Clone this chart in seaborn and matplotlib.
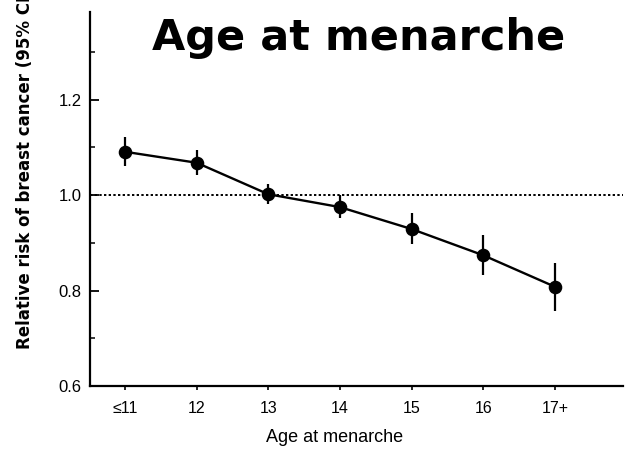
import numpy as np
import pandas as pd
import matplotlib
matplotlib.use("Agg")
import matplotlib.pyplot as plt
from matplotlib.ticker import MultipleLocator
import seaborn as sns

# ---- data ----
categories = ["≤11", "12", "13", "14", "15", "16", "17+"]
relative_risk = [1.091, 1.068, 1.002, 0.975, 0.929, 0.874, 0.808]
ci_low = [1.061, 1.042, 0.981, 0.952, 0.897, 0.832, 0.758]
ci_high = [1.121, 1.094, 1.024, 1.001, 0.963, 0.916, 0.857]
reference_value = 1.0

title_text = "Age at menarche"
x_label = "Age at menarche"
y_label = "Relative risk of breast cancer (95% CI)"

sns.set_theme(style="ticks")
plt.rcParams["font.family"] = ["Liberation Sans", "DejaVu Sans"]

df = pd.DataFrame({"age": categories, "rr": relative_risk})

fig = plt.figure(figsize=(6.35, 4.53), dpi=100)
ax = fig.add_axes([90 / 635, 1 - 386 / 453, (623 - 90) / 635, (386 - 12) / 453])

# reference line
ax.axhline(reference_value, color="black", lw=1.4, ls=(0, (1.2, 1.2)), zorder=1)

# confidence intervals
ax.vlines(x=np.arange(len(categories)), ymin=ci_low, ymax=ci_high,
          color="black", lw=1.6, zorder=2)

sns.pointplot(data=df, x="age", y="rr", order=categories, color="black",
              errorbar=None, markers="o", markersize=8.5, linewidth=1.7,
              ax=ax, zorder=3)

ax.set_xlim(-0.488, 6.949)
ax.set_ylim(0.6, 1.384)
ax.yaxis.set_major_locator(MultipleLocator(0.2))
ax.yaxis.set_minor_locator(MultipleLocator(0.1))
ax.yaxis.set_major_formatter(matplotlib.ticker.FormatStrFormatter("%.1f"))

ax.tick_params(axis="y", which="major", direction="in", length=6.5, width=1.3,
               pad=6, labelsize=12, colors="black")
ax.tick_params(axis="y", which="minor", direction="in", length=3.8, width=1.3)
ax.tick_params(axis="x", which="major", direction="out", length=3, width=1.2,
               pad=8, labelsize=11.5, colors="black")

for side in ["top", "right"]:
    ax.spines[side].set_visible(False)
for side in ["left", "bottom"]:
    ax.spines[side].set_linewidth(1.6)
    ax.spines[side].set_color("black")

ax.set_xlabel("")
ax.set_ylabel("")

fig.text(335 / 635, 1 - 442 / 453, x_label, ha="center", va="baseline",
         fontsize=13, color="black")
fig.text(34 / 635, 1 - 349 / 453, y_label, rotation=90, ha="right",
         va="bottom", fontsize=12, fontweight="bold", color="black",
         family=["DejaVu Sans"])
fig.text(359 / 635, 1 - 50 / 453, title_text, ha="center", va="baseline",
         fontsize=31, fontweight="bold", color="black",
         family=["DejaVu Sans"])

fig.savefig("out.png", dpi=100, facecolor="white")
